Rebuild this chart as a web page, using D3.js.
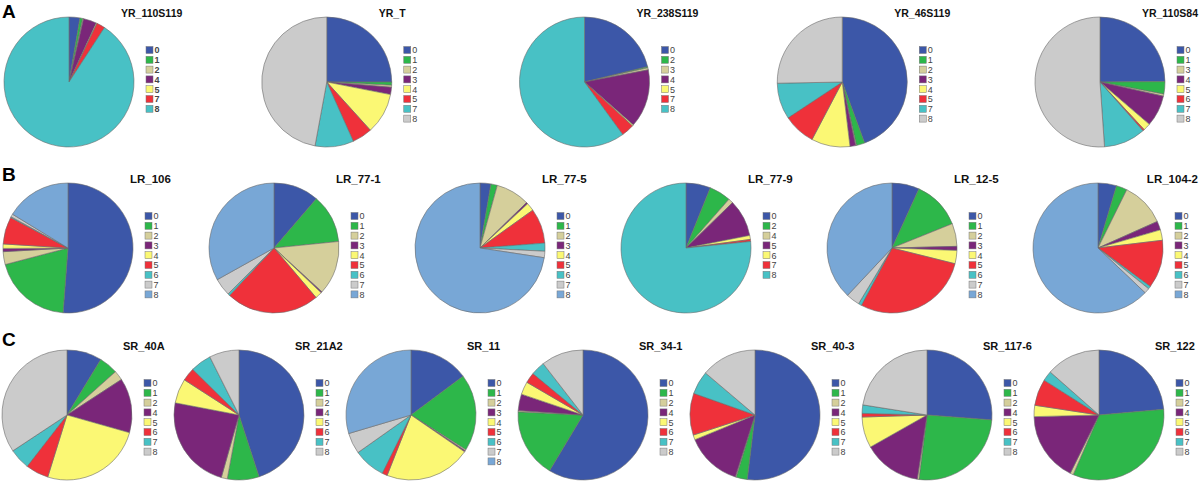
<!DOCTYPE html>
<html>
<head>
<meta charset="utf-8">
<script src="https://cdn.jsdelivr.net/npm/d3@7"></script>
<style>
  body { margin: 0; background: #fff; }
  text { font-family: "Liberation Sans", Arial, sans-serif; }
</style>
</head>
<body>
<svg id="chart" width="1200" height="482"></svg>
<script>
// colours go by position in each legend, not by the category number
var palette = ["#3c57a8", "#2db74a", "#d5cf9b", "#7a2679", "#fbf874", "#ef313a", "#48c1c5", "#cbcbcb", "#78a7d6"];

// row A
var titlesA = ["YR_110S119", "YR_T", "YR_238S119", "YR_46S119", "YR_110S84"];
var catsA = [
    ["0", "1", "2", "4", "5", "7", "8"],
    ["0", "1", "2", "3", "4", "5", "7", "8"],
    ["0", "2", "3", "4", "5", "7", "8"],
    ["0", "1", "2", "3", "4", "5", "7", "8"],
    ["0", "1", "3", "4", "5", "6", "7", "8"]
];
var valuesA = [
    [2.7, 0.7, 0.2, 3.3, 0.2, 2.1, 90.8],
    [25, 0.8, 0.5, 1.8, 10.2, 5, 9.6, 47.1],
    [21.2, 0.3, 0.5, 14.5, 0.3, 3.2, 60],
    [44.4, 2.1, 0.2, 1.4, 9.6, 8, 9, 25.3],
    [24.9, 3.1, 0.5, 7.8, 1.8, 0.4, 10.4, 51.1]
];

// row B
var titlesB = ["LR_106", "LR_77-1", "LR_77-5", "LR_77-9", "LR_12-5", "LR_104-2"];
var allCats = ["0", "1", "2", "3", "4", "5", "6", "7", "8"];
var catsB = [allCats, allCats, allCats, ["0", "2", "4", "5", "6", "7", "8"], allCats, allCats];
var valuesB = [
    [51.2, 19.7, 3.2, 0.8, 1.1, 6.8, 0.2, 0.7, 16.3],
    [11.3, 12.1, 13.4, 0.3, 1.7, 23.2, 0.5, 4.4, 33.1],
    [2.7, 1.6, 8.4, 0.4, 2, 8.7, 2, 1.6, 72.6],
    [6.1, 5.4, 1.2, 9.2, 1.0, 0.5, 76.6],
    [6.8, 12.1, 5.7, 1.0, 3.3, 28.9, 0.8, 3.4, 38],
    [4.6, 2.7, 11, 2.2, 2.6, 12, 0.7, 1.3, 62.9]
];

// row C
var titlesC = ["SR_40A", "SR_21A2", "SR_11", "SR_34-1", "SR_40-3", "SR_117-6", "SR_122"];
var noThree = ["0", "1", "2", "4", "5", "6", "7", "8"];
var catsC = [noThree, noThree, allCats, noThree, noThree, noThree, noThree];
var valuesC = [
    [8.7, 4.7, 2.4, 13.6, 25.4, 5.7, 5.2, 34.3],
    [45, 7.9, 1.5, 23.6, 6.1, 3.3, 5.2, 7.4],
    [14.8, 19.2, 0.3, 0.3, 21.4, 1.3, 7.9, 5.2, 29.6],
    [58.6, 17.2, 0.3, 4.1, 3.2, 2.6, 3.5, 10.5],
    [51.9, 2.8, 0.2, 13.9, 1.2, 10.4, 5.8, 13.8],
    [26.2, 25.8, 0.4, 14.4, 7.7, 0.9, 2.1, 22.5],
    [23.6, 32.9, 0.8, 17.3, 2.8, 6.6, 2.5, 13.5]
];

var svg = d3.select("#chart");
var r = 65;

var pie = d3.pie().sort(null).value(function(d){ return d; });
var arc = d3.arc().innerRadius(0).outerRadius(r);
var color = d3.scaleOrdinal().domain(d3.range(9)).range(palette);

// one row of pies
function fila(letra, letraY, titles, cats, values, cy, x0, x1, tDx, tSize, boldLegend){
    var x = d3.scalePoint().domain(titles).range([x0, x1]);

    svg.append("text")
        .attr("x", 2).attr("y", letraY)
        .attr("font-size", 19).attr("font-weight", "bold")
        .text(letra);

    titles.forEach(function(t, i){
        var g = svg.append("g").attr("transform", "translate(" + x(t) + "," + cy + ")");

        g.selectAll("path")
            .data(pie(values[i]))
            .enter()
            .append("path")
            .attr("d", arc)
            .attr("fill", function(d, k){ return color(k); })
            .attr("stroke", "#6b6b6b")
            .attr("stroke-width", 0.6);

        // title, kept inside the page on the right
        var tt = g.append("text")
            .attr("x", tDx).attr("y", -r)
            .attr("font-size", tSize).attr("font-weight", "bold")
            .attr("fill", "#111")
            .text(t);
        var w = tt.node().getComputedTextLength();
        if (x(t) + tDx + w > 1198) tt.attr("x", 1198 - x(t) - w);

        // legend
        var ly = d3.scaleLinear().domain([0, 1]).range([-32, -22.2]);
        var leg = g.selectAll(".leg")
            .data(cats[i])
            .enter()
            .append("g")
            .attr("transform", function(d, k){ return "translate(77," + ly(k) + ")"; });
        leg.append("rect")
            .attr("x", 0).attr("y", -3.5)
            .attr("width", 7).attr("height", 7)
            .attr("fill", function(d, k){ return color(k); })
            .attr("stroke", "#777")
            .attr("stroke-width", 0.5);
        leg.append("text")
            .attr("x", 8.5).attr("y", 3.3)
            .attr("font-size", 9)
            .attr("font-weight", boldLegend && i == 0 ? "bold" : "normal")
            .attr("fill", "#444")
            .text(function(d){ return d; });
    });
}

fila("A", 18, titlesA, catsA, valuesA, 82, 69, 1100, 52, 10.5, true);
fila("B", 181, titlesB, catsB, valuesB, 248, 68, 1098, 62, 11.5, false);
fila("C", 346, titlesC, catsC, valuesC, 415, 67, 1099, 56, 11, false);
</script>
</body>
</html>
